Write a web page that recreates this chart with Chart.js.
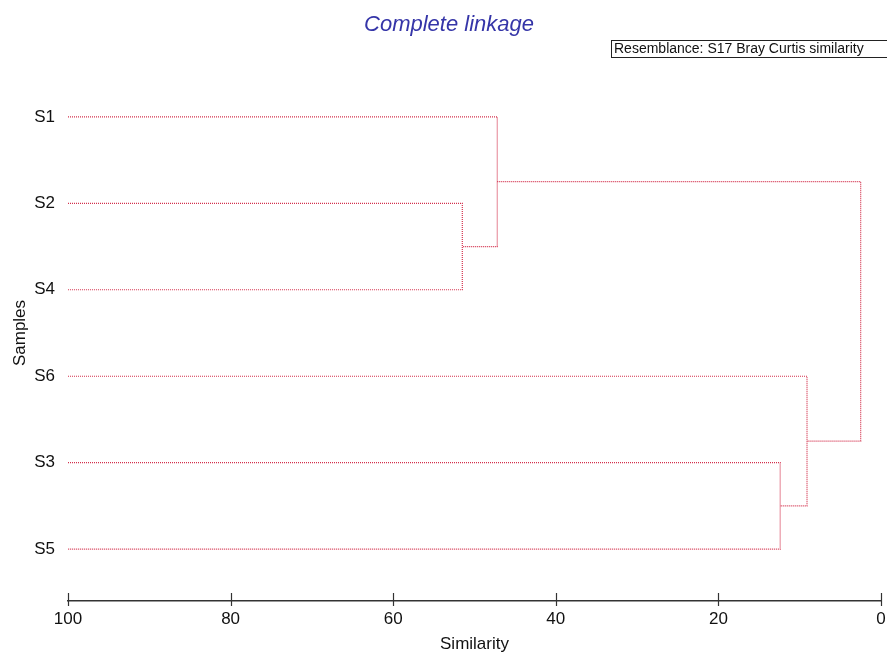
<!DOCTYPE html>
<html>
<head>
<meta charset="utf-8">
<script src="https://cdn.jsdelivr.net/npm/chart.js@4.4.1/dist/chart.umd.min.js"></script>
<style>
  html, body { margin: 0; padding: 0; background: #fff; }
  #wrap { width: 887px; height: 653px; }
</style>
</head>
<body>
<div id="wrap"><canvas id="c"></canvas></div>
<script>
// leaves in plotted order (top to bottom)
const leaves = ['S1', 'S2', 'S4', 'S6', 'S3', 'S5'];
// merges: node ids 0..5 are leaves, each merge creates a new id (6, 7, ...)
const mergeA = [1, 0, 4, 3, 7];
const mergeB = [2, 6, 5, 8, 9];
const mergeSim = [51.5, 47.2, 12.4, 9.1, 2.5];
const xTicks = [100, 80, 60, 40, 20, 0];

const C = { line: '#d3304c', ink: '#111', axis: '#333', title: '#3535a8' };
const FONT = "'Liberation Sans', Arial, sans-serif";

// node position: x = similarity level, y = row
const nodeX = leaves.map(() => 100);
const nodeY = leaves.map((_, i) => i);
const datasets = mergeSim.map((s, k) => {
  const a = mergeA[k], b = mergeB[k];
  const pts = [
    { x: nodeX[a], y: nodeY[a] }, { x: s, y: nodeY[a] },
    { x: s, y: nodeY[b] }, { x: nodeX[b], y: nodeY[b] },
  ];
  nodeX.push(s); nodeY.push((nodeY[a] + nodeY[b]) / 2);
  return {
    data: pts, showLine: true, borderColor: C.line, borderWidth: 1.2,
    borderDash: [1, 1], pointRadius: 0, tension: 0, fill: false,
  };
});

// title, resemblance box and crossing tick marks
const decor = {
  id: 'decor',
  afterDraw(chart) {
    const { ctx, chartArea: a, scales } = chart;
    ctx.save();
    ctx.fillStyle = C.title; ctx.font = `italic 22px ${FONT}`;
    ctx.textAlign = 'center'; ctx.textBaseline = 'middle';
    ctx.fillText('Complete linkage', 449, 25);

    ctx.font = `14px ${FONT}`;
    ctx.fillStyle = '#111'; ctx.textAlign = 'left';
    ctx.strokeStyle = '#222'; ctx.lineWidth = 1;
    ctx.strokeRect(611.5, 40.5, 290, 17);
    ctx.fillText('Resemblance: S17 Bray Curtis similarity', 614, 49.5);

    ctx.strokeStyle = C.axis; ctx.lineWidth = 1.2;
    xTicks.forEach(v => {
      const px = Math.round(scales.x.getPixelForValue(v)) + 0.5;
      ctx.beginPath(); ctx.moveTo(px, a.bottom - 8); ctx.lineTo(px, a.bottom + 5); ctx.stroke();
    });
    ctx.restore();
  },
};

new Chart(document.getElementById('c'), {
  type: 'scatter',
  data: { datasets },
  plugins: [decor],
  options: {
    responsive: true, maintainAspectRatio: false, animation: false,
    layout: { padding: { top: 65, right: 6, left: 0, bottom: 0 } },
    scales: {
      x: {
        type: 'linear', reverse: true, min: 0, max: 100,
        afterBuildTicks: s => { s.ticks = xTicks.map(v => ({ value: v })); },
        afterFit: s => { s.height = 52; s.paddingLeft = 0; s.paddingRight = 0; },
        grid: { display: false, drawTicks: false },
        border: { color: C.axis, width: 1.5 },
        ticks: { color: C.ink, padding: 8, font: { family: FONT, size: 17 } },
        title: { display: true, text: 'Similarity', color: C.ink,
          padding: { top: 0, bottom: 0 }, font: { family: FONT, size: 17, lineHeight: 1 } },
      },
      y: {
        type: 'linear', reverse: true, min: -0.6, max: 5.6,
        afterBuildTicks: s => { s.ticks = leaves.map((_, i) => ({ value: i })); },
        afterFit: s => { s.width = 68; },
        grid: { display: false, drawTicks: false },
        border: { display: false },
        ticks: { color: C.ink, padding: 13, font: { family: FONT, size: 17 },
          callback: v => leaves[v] },
        title: { display: true, text: 'Samples', color: C.ink,
          padding: { top: 12, bottom: 0 }, font: { family: FONT, size: 17, lineHeight: 1 } },
      },
    },
    plugins: { legend: { display: false }, tooltip: { enabled: false } },
  },
});
</script>
</body>
</html>
